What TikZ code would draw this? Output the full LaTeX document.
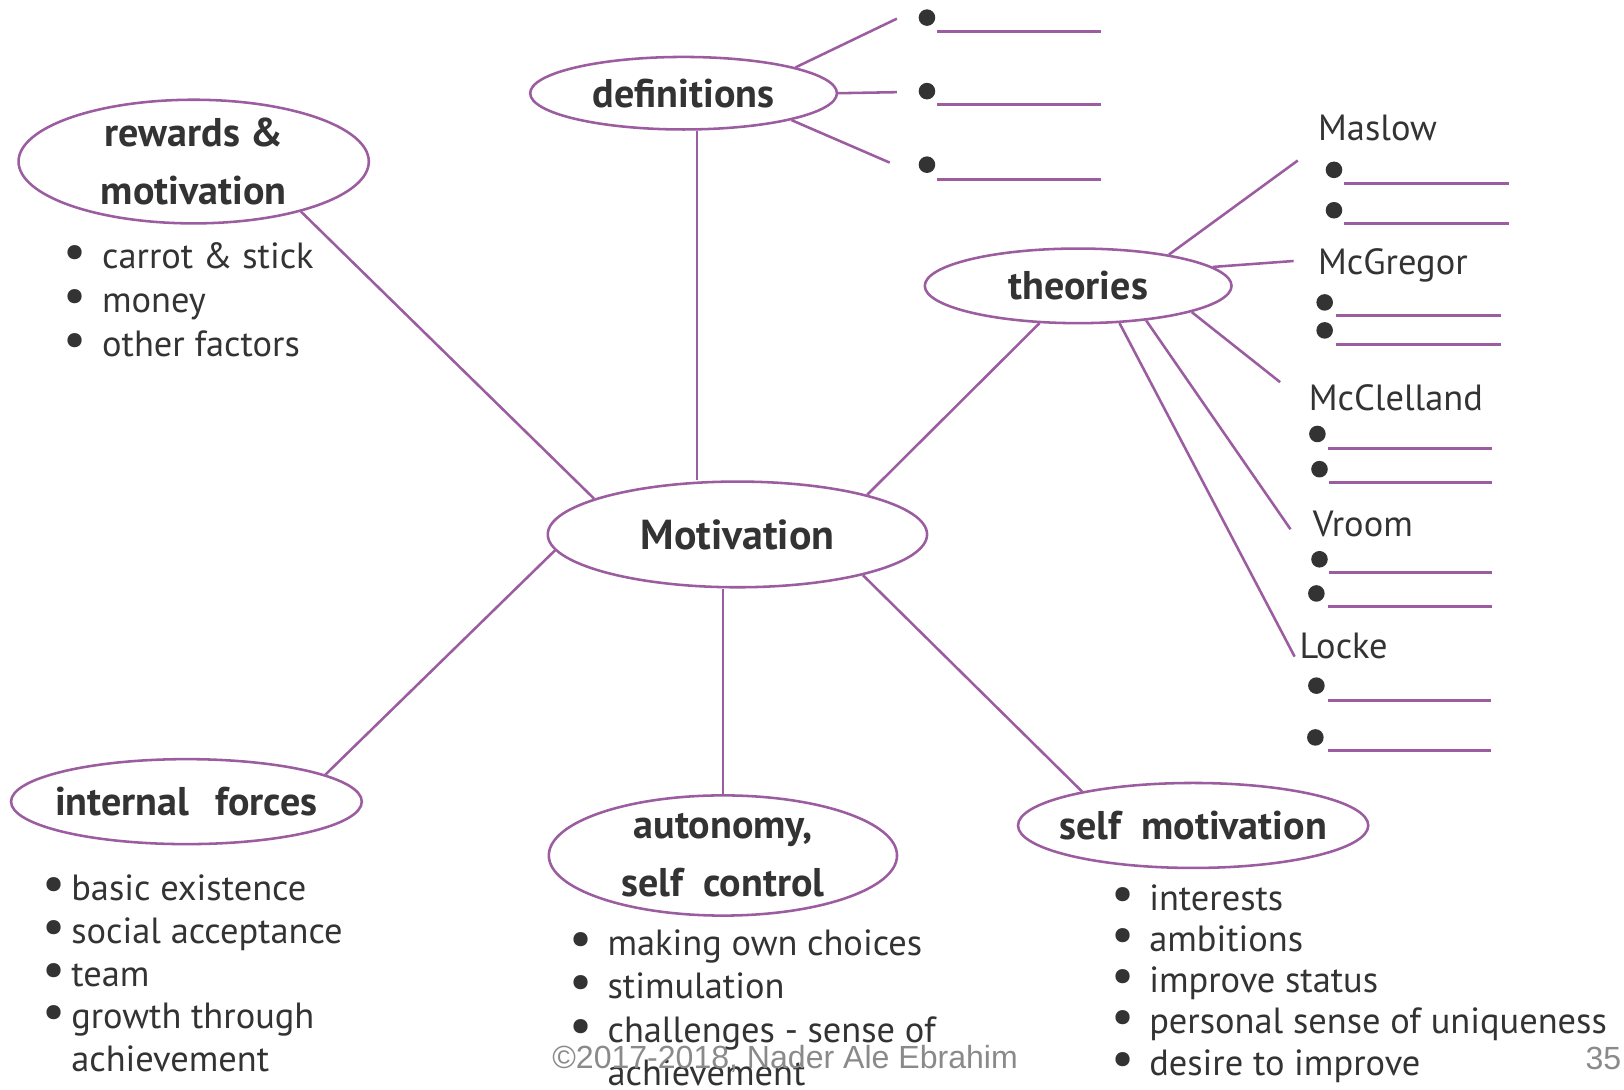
\documentclass[tikz,border=0pt]{standalone}
\usepackage{fontspec}
\setmainfont{PT Sans}
\newfontfamily\footfont{Liberation Sans}
\definecolor{mvpurple}{HTML}{9B5CA0}
\definecolor{mvink}{HTML}{333333}
\definecolor{mvgrey}{HTML}{8A8A8A}
\usetikzlibrary{shapes.geometric, positioning}
\newcommand{\bul}[1][10.5pt]{\makebox[#1][l]{\scalebox{1.4}{\textbullet}}}

\begin{document}
\begin{tikzpicture}[x=0.01cm, y=-0.01cm,
    bubble/.style={ellipse, draw=mvpurple, line width=0.7pt, fill=white,
                   inner sep=0pt, text=mvink, align=center,
                   font=\fontsize{11}{16}\selectfont\bfseries},
    link/.style={draw=mvpurple, line width=0.7pt},
    lst/.style={anchor=base west, align=left, inner sep=0pt, text=mvink,
                font=\fontsize{10}{11.9}\selectfont},
    who/.style={anchor=base west, inner sep=0pt, text=mvink,
                font=\fontsize{10}{12}\selectfont},
    dot/.style={circle, fill=mvink, inner sep=0pt, minimum size=0.16cm},
    blank/.style={draw=mvpurple, line width=0.8pt}
  ]
  \useasboundingbox (0,0) rectangle (1568,1052);

  % bubbles
  \node[bubble, minimum width=3.66cm, minimum height=1.02cm,
        font=\fontsize{11.5}{14}\selectfont\bfseries] (mot) at (712,516) {Motivation};
  \node[bubble, minimum width=2.96cm, minimum height=0.70cm] (defs) at (660,90) {definitions};
  \node[bubble, minimum width=3.38cm, minimum height=1.18cm] (rew) at (187,156) {rewards \&\\motivation};
  \node[bubble, minimum width=2.96cm, minimum height=0.72cm] (theo) at (1041,276) {theories};
  \node[bubble, minimum width=3.38cm, minimum height=0.82cm, inner xsep=-2pt] (intf) at (180,774) {internal\hspace{0.4em} forces};
  \node[bubble, minimum width=3.36cm, minimum height=1.16cm] (auto) at (698,826) {autonomy,\\self\hspace{0.25em} control};
  \node[bubble, minimum width=3.38cm, minimum height=0.82cm, inner xsep=-3pt] (selfm) at (1152,797) {self\hspace{0.25em} motivation};

  % main spokes
  \draw[link] (rew.-25) -- (mot.166);
  \draw[link] (defs.-70) -- (defs.-70 |- mot.north);
  \draw[link] (theo.-136) -- (mot.17);
  \draw[link] (mot.185) -- (intf.11);
  \draw[link] (auto.north) -- (auto.north |- mot.south);
  \draw[link] (mot.-18) -- (selfm.163);

  % definitions
  \coordinate (defA) at (866,18);
  \coordinate (defB) at (866,89);
  \coordinate (defC) at (859,157);
  \draw[link] (defs.13) -- (defA);
  \draw[link] (defs.east) -- (defB);
  \draw[link] (defs.-14) -- (defC);

  % theories
  \node[who] (maslow) at (1272,136) {Maslow};
  \node[who] (mcgregor) at (1272,265) {McGregor};
  \node[who] (mcclelland) at (1263,396) {McClelland};
  \node[who] (vroom) at (1267,518) {Vroom};
  \node[who] (locke) at (1254,636) {Locke};
  \coordinate (maslowEnd) at (1253,155);
  \coordinate (mcgregorEnd) at (1249,252);
  \coordinate (mcclellandEnd) at (1236,369);
  \coordinate (vroomEnd) at (1246,511);
  \coordinate (lockeEnd) at (1250,634);
  \draw[link] (theo.19) -- (maslowEnd);
  \draw[link] (theo.8) -- (mcgregorEnd);
  \draw[link] (theo.-13) -- (mcclellandEnd);
  \draw[link] (theo.-27) -- (vroomEnd);
  \draw[link] (theo.-42) -- (lockeEnd);

  % blanks to fill in
  \foreach \bx/\by/\lx/\rx/\ly [count=\i] in {
      895/17/905/1063/30, 895/88/905/1063/101, 895/159/905/1063/173,
      1288/164/1298/1457/177, 1288/203/1298/1457/216,
      1279/292/1290/1449/305, 1279/319/1290/1449/333,
      1272/419/1282/1441/433, 1274/453/1283/1441/466,
      1274/540/1283/1441/553, 1271/573/1282/1441/586,
      1271/662/1282/1440/676, 1270/712/1282/1440/725} {
    \node[dot] (blank\i) at (\bx,\by) {};
    \draw[blank] (\lx,\ly) -- (\rx,\ly);
  }

  % bullet lists (placed by the baseline of their last line)
  \node[lst, font=\fontsize{10}{12.1}\selectfont] (rewlist) at (61,344)
    {\bul carrot \& stick\\ \bul money\\ \bul other factors};
  \node[lst, font=\fontsize{10}{11.8}\selectfont] (intlist) at (40,1035)
    {\bul[8pt]basic existence\\ \bul[8pt]social acceptance\\ \bul[8pt]team\\
     \bul[8pt]growth through\\ \hspace*{8pt}achievement};
  \node[lst] (autolist) at (549,1048)
    {\bul making own choices\\ \bul stimulation\\ \bul challenges - sense of\\
     \hspace*{10.5pt}achievement};
  \node[lst, font=\fontsize{10}{11.3}\selectfont] (selflist) at (1072,1038)
    {\bul interests\\ \bul ambitions\\ \bul improve status\\
     \bul personal sense of uniqueness\\ \bul desire to improve};

  % footer
  \node[font=\footfont\fontsize{8.8}{10}\selectfont, text=mvgrey, inner sep=0pt]
    (copy) at (758,1022) {©2017-2018, Nader Ale Ebrahim};
  \node[font=\footfont\fontsize{8.8}{10}\selectfont, text=mvgrey, inner sep=0pt,
        anchor=east] (pgnum) at (1566,1022) {35};
\end{tikzpicture}
\end{document}
